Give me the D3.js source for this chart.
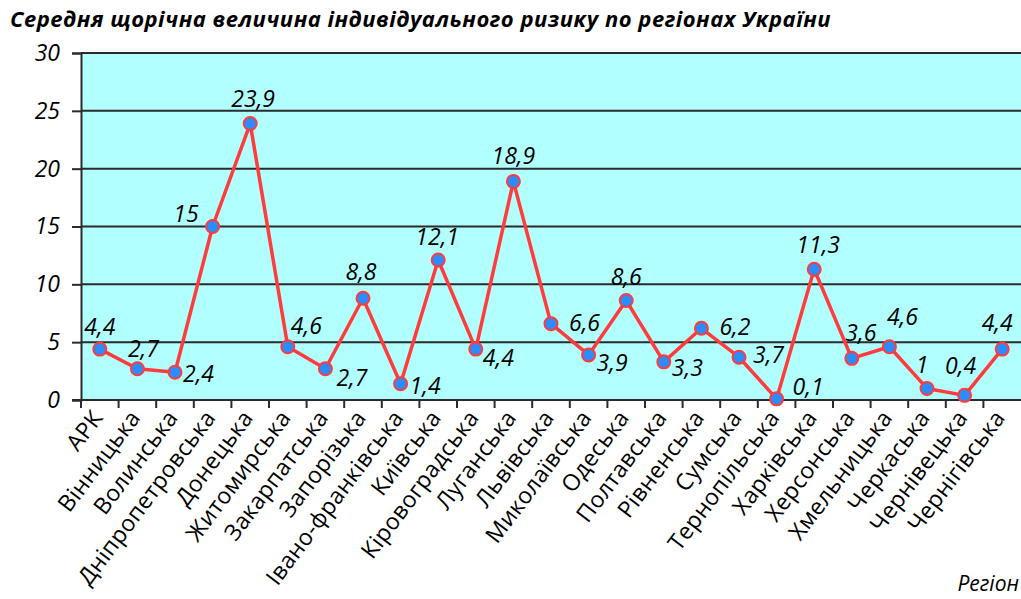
<!DOCTYPE html>
<html>
<head>
<meta charset="utf-8">
<script src="https://cdn.jsdelivr.net/npm/d3@7"></script>
<style>
  body { margin: 0; background: #fff; }
  svg { display: block; }
</style>
</head>
<body>
<div id="chart"></div>
<script>
var w = 1021,
    h = 599;

// --- data ---
var regions = ["АРК", "Вінницька", "Волинська", "Дніпропетровська", "Донецька",
  "Житомирська", "Закарпатська", "Запорізька", "Івано-франківська", "Київська",
  "Кіровоградська", "Луганська", "Львівська", "Миколаївська", "Одеська",
  "Полтавська", "Рівненська", "Сумська", "Тернопільська", "Харківська",
  "Херсонська", "Хмельницька", "Черкаська", "Чернівецька", "Чернігівська"];
var risk = [4.4, 2.7, 2.4, 15, 23.9, 4.6, 2.7, 8.8, 1.4, 12.1, 4.4, 18.9, 6.6,
  3.9, 8.6, 3.3, 6.2, 3.7, 0.1, 11.3, 3.6, 4.6, 1, 0.4, 4.4];
var yTicks = [0, 5, 10, 15, 20, 25, 30];

// where each value label sits relative to its point: [dx, dy, anchor]
var labelPlace = [
  [0, -14, "middle"], [6, -12, "middle"], [8, 10, "start"], [-14, -5, "end"],
  [3, -17, "middle"], [3, -13, "start"], [11, 17, "start"], [-2, -18, "middle"],
  [9, 10, "start"], [-1, -15, "middle"], [7, 17, "start"], [0, -17, "middle"],
  [18, 7, "start"], [8, 16, "start"], [0, -16, "middle"], [8, 14, "start"],
  [18, 7, "start"], [14, 6, "start"], [16, -4, "start"], [4, -16, "middle"],
  [9, -17, "middle"], [13, -22, "middle"], [-5, -15, "middle"], [-4, -21, "middle"],
  [-5, -18, "middle"]
];

var plotL = 81, plotT = 53, plotB = 400, plotR = 1021;

var svg = d3.select("#chart").append("svg")
    .attr("width", w)
    .attr("height", h);

var x = d3.scaleBand()
    .domain(regions)
    .range([plotL, plotR]);

var y = d3.scaleLinear()
    .domain([0, 30])
    .range([plotB, plotT]);

function cx(i) { return x(regions[i]) + x.bandwidth() / 2; }

// plot background
svg.append("rect")
    .attr("x", plotL)
    .attr("y", plotT)
    .attr("width", plotR - plotL)
    .attr("height", plotB - plotT)
    .attr("fill", "#b2ffff");

// gridlines
svg.selectAll("line.grid")
    .data(yTicks.filter(function(d) { return d > 0; }))
    .enter().append("line")
    .attr("class", "grid")
    .attr("x1", plotL)
    .attr("x2", plotR)
    .attr("y1", function(d) { return y(d); })
    .attr("y2", function(d) { return y(d); })
    .attr("stroke", "#2b2b2b")
    .attr("stroke-width", 2);

// y axis
var yAxis = d3.axisLeft(y)
    .tickValues(yTicks)
    .tickSize(9)
    .tickPadding(12)
    .tickFormat(function(d) { return d; });

var gy = svg.append("g")
    .attr("transform", "translate(" + plotL + ",0)")
    .call(yAxis);
gy.select(".domain").attr("stroke", "#2b2b2b").attr("stroke-width", 2);
gy.selectAll(".tick line").attr("stroke", "#2b2b2b").attr("stroke-width", 2);
gy.selectAll(".tick text")
    .attr("font-family", "'Open Sans', sans-serif")
    .attr("font-style", "italic")
    .attr("font-size", "23px")
    .attr("fill", "#000");

// x axis line
svg.append("line")
    .attr("x1", plotL - 9)
    .attr("x2", plotR)
    .attr("y1", plotB)
    .attr("y2", plotB)
    .attr("stroke", "#2b2b2b")
    .attr("stroke-width", 2);

// x ticks at category boundaries
svg.selectAll("line.xtick")
    .data(regions)
    .enter().append("line")
    .attr("class", "xtick")
    .attr("x1", function(d) { return x(d); })
    .attr("x2", function(d) { return x(d); })
    .attr("y1", plotB)
    .attr("y2", plotB + 8)
    .attr("stroke", "#2b2b2b")
    .attr("stroke-width", 2);

// x category labels
svg.selectAll("text.cat")
    .data(regions)
    .enter().append("text")
    .attr("class", "cat")
    .text(function(d) { return d; })
    .attr("transform", function(d) {
      return "translate(" + (x(d) + x.bandwidth() / 2 + 4) + "," + (plotB + 18) + ") rotate(-53)";
    })
    .attr("text-anchor", "end")
    .attr("font-family", "'Open Sans', sans-serif")
    .attr("font-size", "23px")
    .attr("letter-spacing", "0.3px")
    .attr("fill", "#000");

// line
var line = d3.line()
    .x(function(d, i) { return cx(i); })
    .y(function(d) { return y(d); });

svg.append("path")
    .datum(risk)
    .attr("d", line)
    .attr("fill", "none")
    .attr("stroke", "#ff3b3b")
    .attr("stroke-width", 3.5)
    .attr("stroke-linejoin", "round");

// markers
svg.selectAll("circle")
    .data(risk)
    .enter().append("circle")
    .attr("cx", function(d, i) { return cx(i); })
    .attr("cy", function(d) { return y(d); })
    .attr("r", 6.5)
    .attr("fill", "#2a8cff")
    .attr("stroke", "#ff3b3b")
    .attr("stroke-width", 2);

// value labels
svg.selectAll("text.val")
    .data(risk)
    .enter().append("text")
    .attr("class", "val")
    .text(function(d) { return String(d).replace(".", ","); })
    .attr("x", function(d, i) { return cx(i) + labelPlace[i][0]; })
    .attr("y", function(d, i) { return y(d) + labelPlace[i][1]; })
    .attr("text-anchor", function(d, i) { return labelPlace[i][2]; })
    .attr("font-family", "'Open Sans', sans-serif")
    .attr("font-style", "italic")
    .attr("font-size", "23px")
    .attr("fill", "#000");

// title
svg.append("text")
    .text("Середня щорічна величина індивідуального ризику по регіонах України")
    .attr("x", 10)
    .attr("y", 27)
    .attr("font-family", "'Open Sans', sans-serif")
    .attr("font-style", "italic")
    .attr("font-weight", "bold")
    .attr("font-size", "22px")
    .attr("letter-spacing", "0.5px")
    .attr("fill", "#000");

// axis title
svg.append("text")
    .text("Регіон")
    .attr("x", 1019)
    .attr("y", 591)
    .attr("text-anchor", "end")
    .attr("font-family", "'Open Sans', sans-serif")
    .attr("font-style", "italic")
    .attr("font-size", "21px")
    .attr("fill", "#000");
</script>
</body>
</html>
